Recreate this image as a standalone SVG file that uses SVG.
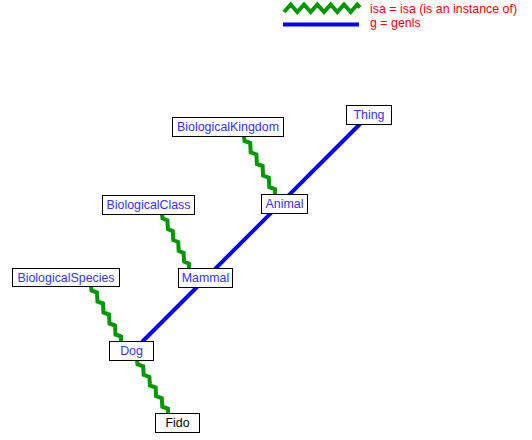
<svg xmlns="http://www.w3.org/2000/svg" width="532" height="440" viewBox="0 0 532 440">
<style>
.box{fill:#fff;stroke:#000;stroke-width:1}
.lbl{font-family:"Liberation Sans",Arial,sans-serif;font-size:12.4px;fill:#3333ff;text-anchor:middle}
.isa{fill:none;stroke:#009900;stroke-width:4;stroke-linejoin:miter}
.genls{fill:none;stroke:#0000ff;stroke-width:4}
.leg{font-family:"Liberation Sans",Arial,sans-serif;font-size:12.4px;fill:#ff0000}
</style>
<rect width="532" height="440" fill="#fff"/>
<g id="legend">
<polyline class="isa" points="284,12 290.7,4.5 297.3,12 304,4.5 310.7,12 317.3,4.5 324,12 330.7,4.5 337.3,12 344,4.5 350.7,12 357.3,4.5 360,7.5"/>
<text class="leg" x="370" y="13">isa = isa (is an instance of)</text>
<line class="genls" x1="283" y1="24.5" x2="359" y2="24.5" stroke-width="3"/>
<text class="leg" x="370" y="27">g = genls</text>
</g>
<g id="connectors">
<line class="genls" x1="361" y1="123" x2="142" y2="342"/>
<polyline class="isa" points="244,136 244.5,141 250.2,143 250.7,152.4 256.4,154.4 256.9,164 262.6,166 263.1,175.6 268.8,177.6 269.3,187.2 275,189.2 275,194"/>
<polyline class="isa" points="162,214 162.5,218.4 167.4,220.4 167.9,229.2 172.8,231.2 173.3,240 178.2,242 178.7,250.8 183.6,252.8 184.1,261.6 189,263.6 189,268"/>
<polyline class="isa" points="91,286 91.5,290.5 97,292.5 97.5,301.5 103,303.5 103.5,312.5 109,314.5 109.5,323.5 115,325.5 115.5,334.5 121,336.5 121,341"/>
<polyline class="isa" points="137,360 137.5,364.3 143.2,366.3 143.7,374.9 149.4,376.9 149.9,385.5 155.6,387.5 156.1,396.1 161.8,398.1 162.3,406.7 168,408.7 168,413"/>
</g>
<g id="Thing"><rect class="box" x="346.5" y="105.5" width="45" height="19"/><text class="lbl" x="369" y="119">Thing</text></g>
<g id="BiologicalKingdom"><rect class="box" x="172.5" y="117.5" width="111" height="19"/><text class="lbl" x="228" y="131">BiologicalKingdom</text></g>
<g id="Animal"><rect class="box" x="261.5" y="194.5" width="46" height="19"/><text class="lbl" x="284.5" y="208">Animal</text></g>
<g id="BiologicalClass"><rect class="box" x="102.5" y="195.5" width="92" height="19"/><text class="lbl" x="148.5" y="209">BiologicalClass</text></g>
<g id="Mammal"><rect class="box" x="178.5" y="268.5" width="54" height="19"/><text class="lbl" x="205.5" y="282">Mammal</text></g>
<g id="BiologicalSpecies"><rect class="box" x="12.5" y="268.5" width="107" height="18"/><text class="lbl" x="66" y="282">BiologicalSpecies</text></g>
<g id="Dog"><rect class="box" x="109.5" y="341.5" width="44" height="19"/><text class="lbl" x="131.5" y="355">Dog</text></g>
<g id="Fido"><rect class="box" x="155.5" y="413.5" width="44" height="19"/><text class="lbl" x="177.5" y="427" style="fill:#000">Fido</text></g>
</svg>
